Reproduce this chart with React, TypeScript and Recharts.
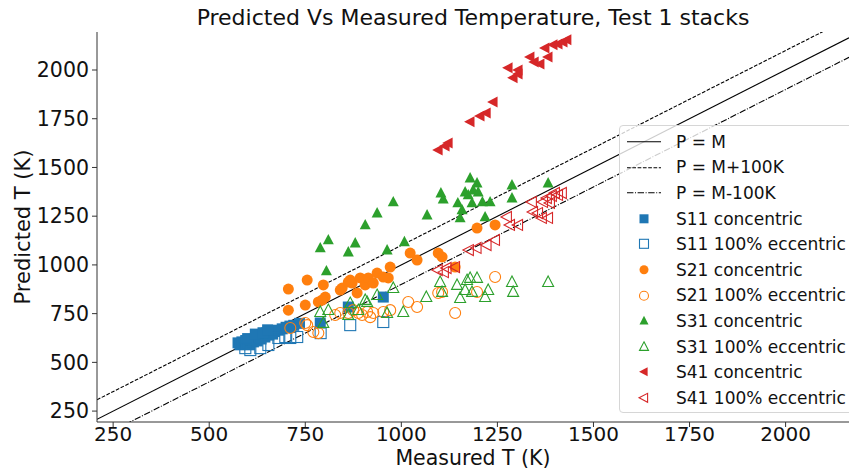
import React from "react";
import { ScatterChart, Scatter, XAxis, YAxis, ReferenceLine } from "recharts";

const FONT = "'DejaVu Sans', sans-serif";

const ticks = [250, 500, 750, 1000, 1250, 1500, 1750, 2000];
const xDomain: [number, number] = [208, 2165];
const yDomain: [number, number] = [194, 2195];

// reference lines P = M + offset
const refLines = [
  { name: "P = M", offset: 0, dash: undefined as string | undefined },
  { name: "P = M+100K", offset: 100, dash: "3.7 1.6" },
  { name: "P = M-100K", offset: -100, dash: "6.4 1.6 1 1.6" },
];

const s11Concentric = [
  { m: 575, p: 600 }, { m: 580, p: 590 }, { m: 585, p: 605 }, { m: 590, p: 595 },
  { m: 595, p: 612 }, { m: 600, p: 600 }, { m: 605, p: 590 }, { m: 610, p: 615 },
  { m: 615, p: 605 }, { m: 620, p: 622 }, { m: 625, p: 610 }, { m: 630, p: 632 },
  { m: 635, p: 620 }, { m: 640, p: 642 }, { m: 645, p: 630 }, { m: 650, p: 652 },
  { m: 655, p: 640 }, { m: 660, p: 660 }, { m: 665, p: 645 }, { m: 670, p: 658 },
  { m: 680, p: 665 }, { m: 690, p: 672 }, { m: 700, p: 680 }, { m: 710, p: 686 },
  { m: 720, p: 690 }, { m: 735, p: 700 }, { m: 600, p: 622 }, { m: 620, p: 645 },
  { m: 640, p: 652 }, { m: 652, p: 667 }, { m: 789, p: 702 }, { m: 862, p: 784 },
  { m: 953, p: 835 },
];

const s11Eccentric = [
  { m: 594, p: 573 }, { m: 607, p: 563 }, { m: 633, p: 573 }, { m: 654, p: 589 },
  { m: 680, p: 625 }, { m: 698, p: 630 }, { m: 711, p: 625 }, { m: 729, p: 630 },
  { m: 790, p: 650 }, { m: 867, p: 691 }, { m: 953, p: 707 },
];

const s21Concentric = [
  { m: 706, p: 876 }, { m: 706, p: 768 }, { m: 750, p: 794 }, { m: 755, p: 922 },
  { m: 784, p: 810 }, { m: 797, p: 897 }, { m: 802, p: 835 }, { m: 794, p: 820 },
  { m: 841, p: 871 }, { m: 846, p: 881 }, { m: 867, p: 922 }, { m: 862, p: 912 },
  { m: 872, p: 907 }, { m: 885, p: 856 }, { m: 893, p: 933 }, { m: 906, p: 897 },
  { m: 914, p: 933 }, { m: 927, p: 907 }, { m: 937, p: 958 }, { m: 953, p: 938 },
  { m: 966, p: 933 }, { m: 971, p: 989 }, { m: 1023, p: 1061 }, { m: 1041, p: 1025 },
  { m: 1096, p: 1061 }, { m: 1106, p: 1041 }, { m: 1140, p: 989 }, { m: 1197, p: 1189 },
  { m: 1244, p: 1205 },
];

const s21Eccentric = [
  { m: 711, p: 676 }, { m: 750, p: 702 }, { m: 755, p: 691 }, { m: 771, p: 656 },
  { m: 784, p: 650 }, { m: 828, p: 743 }, { m: 841, p: 753 }, { m: 862, p: 753 },
  { m: 875, p: 768 }, { m: 888, p: 753 }, { m: 898, p: 743 }, { m: 911, p: 758 },
  { m: 919, p: 732 }, { m: 927, p: 753 }, { m: 953, p: 758 }, { m: 971, p: 768 },
  { m: 1018, p: 810 }, { m: 1041, p: 784 }, { m: 1096, p: 856 }, { m: 1106, p: 861 },
  { m: 1140, p: 753 }, { m: 1197, p: 861 }, { m: 1244, p: 938 },
];

const s31Concentric = [
  { m: 789, p: 1087 }, { m: 810, p: 1128 }, { m: 805, p: 969 }, { m: 862, p: 1066 },
  { m: 880, p: 1112 }, { m: 906, p: 1205 }, { m: 937, p: 1266 }, { m: 963, p: 1076 },
  { m: 979, p: 1323 }, { m: 1008, p: 1118 }, { m: 1067, p: 1256 }, { m: 1103, p: 1369 },
  { m: 1109, p: 1338 }, { m: 1147, p: 1318 }, { m: 1158, p: 1282 }, { m: 1153, p: 1241 },
  { m: 1166, p: 1374 }, { m: 1174, p: 1359 }, { m: 1179, p: 1446 }, { m: 1187, p: 1384 },
  { m: 1184, p: 1318 }, { m: 1197, p: 1420 }, { m: 1200, p: 1374 }, { m: 1211, p: 1323 },
  { m: 1218, p: 1246 }, { m: 1231, p: 1323 }, { m: 1288, p: 1410 }, { m: 1288, p: 1343 },
  { m: 1382, p: 1420 },
];

const s31Eccentric = [
  { m: 789, p: 758 }, { m: 810, p: 768 }, { m: 797, p: 702 }, { m: 862, p: 743 },
  { m: 867, p: 804 }, { m: 888, p: 768 }, { m: 906, p: 820 }, { m: 911, p: 810 },
  { m: 937, p: 845 }, { m: 963, p: 753 }, { m: 979, p: 881 }, { m: 1005, p: 758 },
  { m: 1065, p: 835 }, { m: 1101, p: 912 }, { m: 1106, p: 861 }, { m: 1145, p: 897 },
  { m: 1153, p: 830 }, { m: 1166, p: 871 }, { m: 1171, p: 922 }, { m: 1179, p: 933 },
  { m: 1197, p: 933 }, { m: 1184, p: 861 }, { m: 1218, p: 835 }, { m: 1226, p: 871 },
  { m: 1288, p: 912 }, { m: 1291, p: 861 }, { m: 1382, p: 912 },
];

const s41Concentric = [
  { m: 1096, p: 1590 }, { m: 1114, p: 1610 }, { m: 1122, p: 1626 }, { m: 1179, p: 1734 },
  { m: 1205, p: 1764 }, { m: 1221, p: 1780 }, { m: 1239, p: 1836 }, { m: 1278, p: 2011 },
  { m: 1291, p: 1960 }, { m: 1304, p: 1980 }, { m: 1304, p: 2000 }, { m: 1335, p: 2067 },
  { m: 1346, p: 2041 }, { m: 1361, p: 2031 }, { m: 1374, p: 2113 }, { m: 1382, p: 2067 },
  { m: 1395, p: 2129 }, { m: 1408, p: 2134 }, { m: 1421, p: 2144 }, { m: 1431, p: 2155 },
];

const s41Eccentric = [
  { m: 1095, p: 974 }, { m: 1111, p: 963 }, { m: 1118, p: 984 }, { m: 1140, p: 989 },
  { m: 1176, p: 1076 }, { m: 1196, p: 1087 }, { m: 1222, p: 1102 }, { m: 1244, p: 1128 },
  { m: 1275, p: 1246 }, { m: 1283, p: 1205 }, { m: 1304, p: 1205 }, { m: 1340, p: 1323 },
  { m: 1343, p: 1272 }, { m: 1356, p: 1266 }, { m: 1366, p: 1241 }, { m: 1382, p: 1241 },
  { m: 1369, p: 1323 }, { m: 1379, p: 1343 }, { m: 1392, p: 1354 }, { m: 1400, p: 1369 },
  { m: 1408, p: 1359 }, { m: 1418, p: 1369 }, { m: 1387, p: 1318 },
];

type Kind = "square" | "circle" | "triUp" | "triLeft";

function Marker({ kind, cx, cy, color, filled, size }: {
  kind: Kind; cx: number; cy: number; color: string; filled: boolean; size: number;
}) {
  const h = size / 2;
  const fill = filled ? color : "none";
  const sw = filled ? 0 : 1.1;
  if (kind === "square")
    return <rect x={cx - h} y={cy - h} width={size} height={size} fill={fill} stroke={color} strokeWidth={sw} />;
  if (kind === "circle")
    return <circle cx={cx} cy={cy} r={h} fill={fill} stroke={color} strokeWidth={sw} />;
  const pts =
    kind === "triUp"
      ? `${cx},${cy - h * 1.1} ${cx + h},${cy + h * 0.8} ${cx - h},${cy + h * 0.8}`
      : `${cx - h * 1.1},${cy} ${cx + h * 0.8},${cy - h} ${cx + h * 0.8},${cy + h}`;
  return <polygon points={pts} fill={fill} stroke={color} strokeWidth={sw} strokeLinejoin="miter" />;
}

const series = [
  { name: "S11 concentric", data: s11Concentric, kind: "square" as Kind, color: "#1f77b4", filled: true, size: 11 },
  { name: "S11 100% eccentric", data: s11Eccentric, kind: "square" as Kind, color: "#1f77b4", filled: false, size: 11 },
  { name: "S21 concentric", data: s21Concentric, kind: "circle" as Kind, color: "#ff7f0e", filled: true, size: 11 },
  { name: "S21 100% eccentric", data: s21Eccentric, kind: "circle" as Kind, color: "#ff7f0e", filled: false, size: 11 },
  { name: "S31 concentric", data: s31Concentric, kind: "triUp" as Kind, color: "#2ca02c", filled: true, size: 11 },
  { name: "S31 100% eccentric", data: s31Eccentric, kind: "triUp" as Kind, color: "#2ca02c", filled: false, size: 11 },
  { name: "S41 concentric", data: s41Concentric, kind: "triLeft" as Kind, color: "#d62728", filled: true, size: 11 },
  { name: "S41 100% eccentric", data: s41Eccentric, kind: "triLeft" as Kind, color: "#d62728", filled: false, size: 11 },
];

function LegendBox() {
  const rowH = 25.6;
  return (
    <div
      style={{
        position: "absolute", left: 619, top: 125, width: 250, height: 288,
        border: "1px solid #d6d6d6", borderRadius: 4, background: "rgba(255,255,255,0.8)",
        boxSizing: "border-box", paddingTop: 3, fontFamily: FONT, fontSize: 17, color: "#111",
      }}
    >
      {refLines.map((l) => (
        <div key={l.name} style={{ height: rowH, display: "flex", alignItems: "center" }}>
          <svg width={56} height={rowH} style={{ flex: "none" }}>
            <line x1={7} x2={41} y1={rowH / 2} y2={rowH / 2} stroke="#000" strokeWidth={1.1} strokeDasharray={l.dash} />
          </svg>
          <span>{l.name}</span>
        </div>
      ))}
      {series.map((s) => (
        <div key={s.name} style={{ height: rowH, display: "flex", alignItems: "center" }}>
          <svg width={56} height={rowH} style={{ flex: "none" }}>
            <Marker kind={s.kind} cx={24} cy={rowH / 2} color={s.color} filled={s.filled} size={9} />
          </svg>
          <span>{s.name}</span>
        </div>
      ))}
    </div>
  );
}

function YLabel() {
  const cx = 23;
  const cy = 32 + (422 - 32) / 2;
  return (
    <text
      x={cx} y={cy} transform={`rotate(-90, ${cx}, ${cy})`} textAnchor="middle" dominantBaseline="central"
      fill="#111" fontSize={21} fontFamily={FONT}
    >
      Predicted T (K)
    </text>
  );
}

export default function App() {
  return (
    <div style={{ position: "absolute", left: 0, top: 0, width: 849, height: 470, overflow: "hidden", background: "#fff", fontFamily: FONT }}>
      <div style={{ position: "absolute", left: 97, width: 752, top: 5, textAlign: "center", fontSize: 22, lineHeight: "26px", color: "#111" }}>
        Predicted Vs Measured Temperature, Test 1 stacks
      </div>
      <ScatterChart width={849} height={470} margin={{ top: 32, right: 0, bottom: 0, left: 0 }}>
        <XAxis
          type="number" dataKey="m" domain={xDomain} ticks={ticks} allowDataOverflow
          height={48} tickSize={5} tickMargin={0} interval={0}
          stroke="#333" tick={{ fill: "#111", fontSize: 20, fontFamily: FONT }}
          label={{ value: "Measured T (K)", position: "insideBottom", offset: 5, fill: "#111", fontSize: 20.5, fontFamily: FONT }}
        />
        <XAxis xAxisId="top" orientation="top" type="number" domain={xDomain} allowDataOverflow height={0} tick={false} tickLine={false} stroke="#333" />
        <YAxis
          type="number" dataKey="p" domain={yDomain} ticks={ticks} allowDataOverflow
          width={97} tickSize={5} tickMargin={3} interval={0}
          stroke="#333" tick={{ fill: "#111", fontSize: 20.5, fontFamily: FONT }}
          label={{ content: YLabel }}
        />
        {refLines.map((l) => (
          <ReferenceLine
            key={l.name}
            segment={[{ x: xDomain[0], y: xDomain[0] + l.offset }, { x: xDomain[1], y: xDomain[1] + l.offset }]}
            ifOverflow="hidden" stroke="#000" strokeWidth={1.1} strokeDasharray={l.dash}
          />
        ))}
        {series.map((s) => (
          <Scatter
            key={s.name} name={s.name} data={s.data} isAnimationActive={false}
            shape={(props: any) => (
              <Marker kind={s.kind} cx={props.cx} cy={props.cy} color={s.color} filled={s.filled} size={s.size} />
            )}
          />
        ))}
      </ScatterChart>
      <LegendBox />
    </div>
  );
}
